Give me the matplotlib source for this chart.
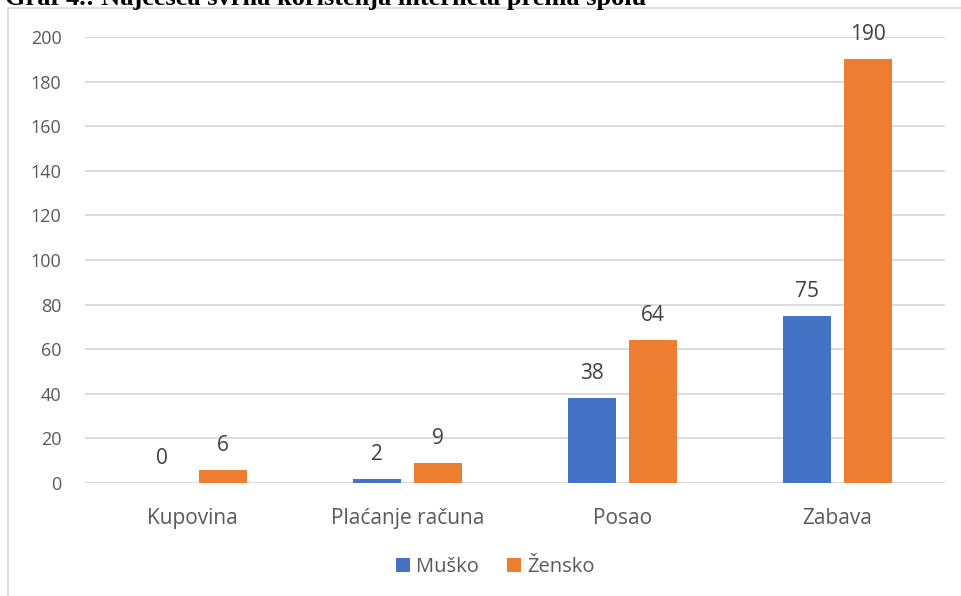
import matplotlib.pyplot as plt
import numpy as np
from matplotlib.patches import Rectangle

categories = ["Kupovina", "Plaćanje računa", "Posao", "Zabava"]
musko = [0, 2, 38, 75]
zensko = [6, 9, 64, 190]
series_names = ["Muško", "Žensko"]
yticks = list(range(0, 201, 20))

plt.rcParams['font.family'] = ['Open Sans', 'DejaVu Sans']

W, H = 961, 596
fig = plt.figure(figsize=(W / 100, H / 100), dpi=100)

# plot area in pixel coordinates
left, right, top, bottom = 85, 945, 37, 483
ax = fig.add_axes([left / W, 1 - bottom / H, (right - left) / W, (bottom - top) / H])

x = np.arange(len(categories))
bw = 0.223
off = 0.142
b1 = ax.bar(x - off, musko, bw, color="#4472C4", label=series_names[0], zorder=3)
b2 = ax.bar(x + off, zensko, bw, color="#ED7D31", label=series_names[1], zorder=3)

for bars, vals in ((b1, musko), (b2, zensko)):
    for rect, v in zip(bars, vals):
        ax.annotate(str(v), (rect.get_x() + rect.get_width() / 2, v),
                    xytext=(0, 10), textcoords="offset points",
                    ha="center", va="bottom", fontsize=15, color="#404040")

ax.set_xlim(-0.5, len(categories) - 0.5)
ax.set_ylim(0, 200)
ax.set_yticks(yticks)
ax.set_xticks(x)
ax.set_xticklabels(categories, fontsize=15, color="#595959")
ax.tick_params(axis="y", labelsize=13, labelcolor="#595959", length=0, pad=17)
ax.tick_params(axis="x", length=0, pad=18)
ax.grid(axis="y", color="#d9d9d9", linewidth=1.3, zorder=0)
for s in ax.spines.values():
    s.set_visible(False)

leg = fig.legend(loc="center", bbox_to_anchor=(495 / W, 1 - 567 / H), ncol=2,
                 frameon=False, fontsize=14.5, handlelength=0.7, handleheight=0.7,
                 handletextpad=0.3, columnspacing=1.4)
for t in leg.get_texts():
    t.set_color("#595959")

# chart border
fig.patches.append(Rectangle((7.5 / W, -0.1), 1.2, 1 - 7.5 / H + 0.1,
                             transform=fig.transFigure, fill=False,
                             edgecolor="#d9d9d9", linewidth=1.2))

# caption above the chart
fig.text(5 / W, 1 - 4.5 / H, "Graf 4.: Najčešća svrha korištenja interneta prema spolu",
         family="Liberation Serif", weight="bold", fontsize=19, va="baseline", ha="left")

fig.savefig("out.png", dpi=100)
